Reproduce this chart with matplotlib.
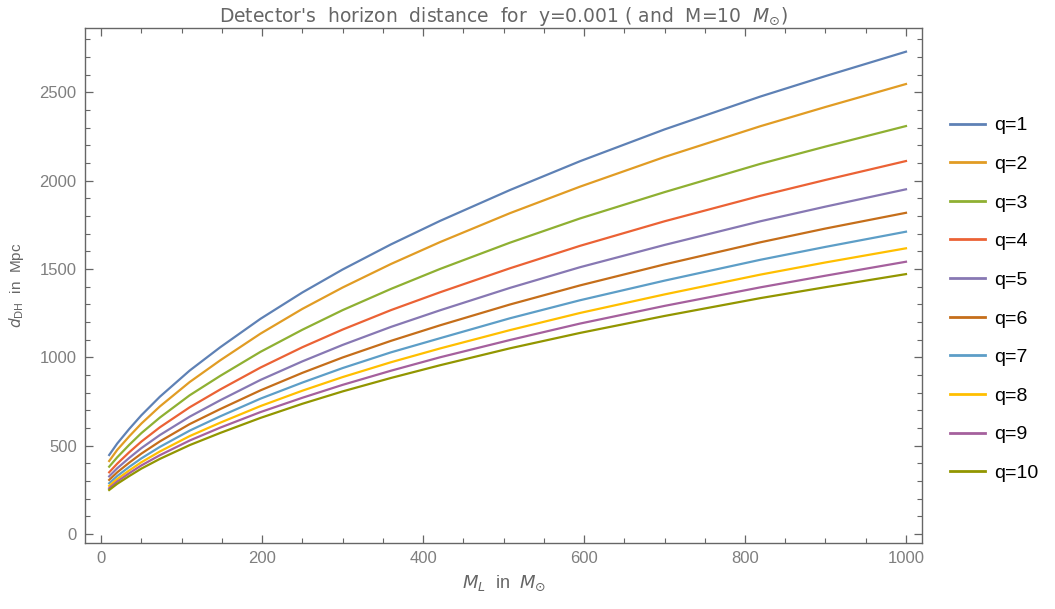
import matplotlib
matplotlib.use("Agg")
import matplotlib.pyplot as plt
from matplotlib.ticker import MultipleLocator

# lens mass grid (solar masses) and horizon distance (Mpc) for each mass ratio q
ml = [10, 20, 35, 50, 73, 110, 148, 198, 250, 300, 360, 421, 508, 595, 700, 819, 900, 1000]

d_q1 = [447, 512, 595, 672, 777, 925, 1057, 1218, 1367, 1497, 1639, 1772, 1947, 2110, 2290, 2476, 2592, 2730]
d_q2 = [413, 476, 553, 625, 722, 860, 983, 1134, 1274, 1395, 1528, 1652, 1816, 1966, 2134, 2308, 2417, 2547]
d_q3 = [381, 434, 505, 571, 659, 785, 895, 1031, 1156, 1267, 1387, 1500, 1649, 1786, 1935, 2095, 2193, 2309]
d_q4 = [349, 398, 463, 523, 604, 717, 818, 942, 1057, 1157, 1267, 1368, 1504, 1631, 1770, 1914, 2004, 2111]
d_q5 = [326, 372, 431, 486, 560, 664, 757, 872, 977, 1070, 1172, 1266, 1393, 1510, 1636, 1770, 1853, 1951]
d_q6 = [306, 349, 404, 455, 524, 622, 707, 813, 912, 999, 1093, 1181, 1299, 1407, 1526, 1651, 1729, 1818]
d_q7 = [287, 328, 380, 428, 493, 585, 666, 766, 857, 939, 1028, 1108, 1221, 1323, 1434, 1552, 1625, 1711]
d_q8 = [272, 311, 360, 406, 467, 554, 630, 724, 811, 888, 972, 1050, 1154, 1251, 1356, 1468, 1537, 1617]
d_q9 = [259, 297, 344, 388, 446, 529, 602, 690, 771, 844, 924, 1000, 1098, 1191, 1291, 1396, 1462, 1541]
d_q10 = [249, 284, 328, 370, 425, 503, 572, 657, 737, 807, 883, 955, 1051, 1138, 1234, 1335, 1397, 1471]

curves = [d_q1, d_q2, d_q3, d_q4, d_q5, d_q6, d_q7, d_q8, d_q9, d_q10]
labels = ["q=%d" % q for q in range(1, 11)]

# Mathematica default plot colours
colors = ["#5E81B5", "#E19C24", "#8FB032", "#EB6235", "#8778B3",
          "#C56E1A", "#5D9EC7", "#FFBF00", "#A5609D", "#929600"]

plt.rcParams['font.family'] = ['Liberation Sans', 'DejaVu Sans']
plt.rcParams['mathtext.fontset'] = 'dejavusans'

fig = plt.figure(figsize=(10.55, 6.09), dpi=100)
ax = fig.add_axes([0.0806, 0.1084, 0.7934, 0.8456])

for d, c, lab in zip(curves, colors, labels):
    ax.plot(ml, d, color=c, lw=1.6, label=lab)

ax.set_xlim(-20, 1020)
ax.set_ylim(-51, 2864)

frame_col = "#666666"
tick_col = "#7f7f7f"
for s in ax.spines.values():
    s.set_color(frame_col)
    s.set_linewidth(1.0)

ax.xaxis.set_major_locator(MultipleLocator(200))
ax.xaxis.set_minor_locator(MultipleLocator(50))
ax.yaxis.set_major_locator(MultipleLocator(500))
ax.yaxis.set_minor_locator(MultipleLocator(100))
ax.tick_params(which='both', direction='in', top=True, right=True, color=frame_col)
ax.tick_params(which='major', length=6, width=0.9, labelsize=12, labelcolor=tick_col, pad=6)
ax.tick_params(which='minor', length=3.5, width=0.8)

ax.set_title(r"Detector's  horizon  distance  for  y=0.001 ( and  M=10  $M_{\odot}$)",
             fontsize=13.5, color="#666666", pad=3, family=['DejaVu Sans'])
ax.set_xlabel(r"$M_L$  in  $M_{\odot}$", fontsize=13, color="#666666", labelpad=5)
ax.set_ylabel(r"$d_{\rm DH}$  in  Mpc", fontsize=11, color="#666666", labelpad=10)

leg = ax.legend(loc='center left', bbox_to_anchor=(1.012, 0.473), frameon=False,
                fontsize=14, handlelength=1.8, handletextpad=0.5, labelspacing=1.08)
for h in leg.get_lines():
    h.set_linewidth(2.0)

fig.savefig("out.png", dpi=100)
